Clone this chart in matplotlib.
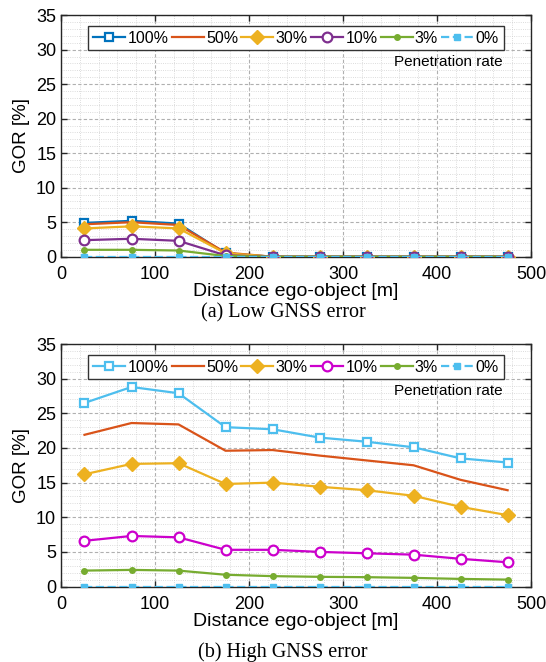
import matplotlib.pyplot as plt
from matplotlib.ticker import MultipleLocator

plt.rcParams['font.family'] = ['Liberation Sans', 'DejaVu Sans']

distance = [25, 75, 125, 175, 225, 275, 325, 375, 425, 475]
labels = ['100%', '50%', '30%', '10%', '3%', '0%']

# (a) low GNSS error
low_100 = [4.9, 5.2, 4.8, 0.5, 0, 0, 0, 0, 0, 0]
low_50 = [4.7, 5.0, 4.6, 0.6, 0, 0, 0, 0, 0, 0]
low_30 = [4.1, 4.4, 4.1, 0.5, 0, 0, 0, 0, 0, 0]
low_10 = [2.4, 2.6, 2.3, 0.2, 0, 0, 0, 0, 0, 0]
low_3 = [1.0, 1.0, 0.9, 0.1, 0, 0, 0, 0, 0, 0]
low_0 = [0, 0, 0, 0, 0, 0, 0, 0, 0, 0]

# (b) high GNSS error
high_100 = [26.5, 28.8, 27.9, 23.0, 22.7, 21.5, 20.9, 20.1, 18.5, 17.9]
high_50 = [21.9, 23.6, 23.4, 19.6, 19.7, 18.9, 18.2, 17.5, 15.4, 13.9]
high_30 = [16.2, 17.7, 17.8, 14.8, 15.0, 14.4, 13.9, 13.1, 11.5, 10.3]
high_10 = [6.6, 7.3, 7.1, 5.3, 5.3, 5.0, 4.8, 4.6, 4.0, 3.5]
high_3 = [2.3, 2.4, 2.3, 1.7, 1.5, 1.4, 1.35, 1.25, 1.1, 1.0]
high_0 = [0, 0, 0, 0, 0, 0, 0, 0, 0, 0]

fig = plt.figure(figsize=(5.46, 6.62), dpi=100)
ax1 = fig.add_axes([0.1117, 0.6122, 0.861, 0.365])
ax2 = fig.add_axes([0.1117, 0.114, 0.861, 0.3663])


def draw(ax, series, c100, c10):
    s100, s50, s30, s10, s3, s0 = series
    ax.plot(distance, s100, '-s', color=c100, lw=1.6, ms=6, mfc='white', mew=1.6, label=labels[0], zorder=3)
    ax.plot(distance, s50, '-', color='#D95319', lw=1.6, label=labels[1], zorder=3)
    ax.plot(distance, s30, '-D', color='#EDB120', lw=1.6, ms=7, label=labels[2], zorder=3)
    ax.plot(distance, s10, '-o', color=c10, lw=1.6, ms=7, mfc='white', mew=1.6, label=labels[3], zorder=3)
    ax.plot(distance, s3, '-o', color='#77AC30', lw=1.6, ms=4, label=labels[4], zorder=3)
    ax.plot(distance, s0, '--s', color='#4DBEEE', lw=1.6, ms=5, label=labels[5], zorder=3)
    ax.set_xlim(0, 500)
    ax.set_ylim(0, 35)
    ax.xaxis.set_major_locator(MultipleLocator(100))
    ax.xaxis.set_minor_locator(MultipleLocator(20))
    ax.yaxis.set_major_locator(MultipleLocator(5))
    ax.yaxis.set_minor_locator(MultipleLocator(1))
    ax.grid(which='major', color='#b0b0b0', ls=(0, (3, 2)), lw=0.8)
    ax.grid(which='minor', color='#d0d0d0', ls=':', lw=0.6)
    ax.tick_params(which='both', direction='in', labelsize=13, top=True, right=True,
                   length=4, width=1, color='#262626')
    ax.tick_params(axis='x', pad=7)
    ax.tick_params(which='minor', length=0)
    for sp in ax.spines.values():
        sp.set_color('#262626')
        sp.set_linewidth(1.0)
    ax.set_ylabel('GOR [%]', fontsize=13.5, labelpad=4)
    ax.set_xlabel('Distance ego-object [m]', fontsize=14, labelpad=0)
    leg = ax.legend(loc='upper center', ncol=6, fontsize=11.5, handlelength=2.0, handletextpad=0.15,
                    columnspacing=0.2, borderpad=0.3, borderaxespad=0, bbox_to_anchor=(0.5, 0.956),
                    fancybox=False, edgecolor='#333333', framealpha=1)
    leg.get_frame().set_linewidth(1.0)
    ax.text(0.94, 0.807, 'Penetration rate', transform=ax.transAxes, ha='right', va='center', fontsize=11)


draw(ax1, [low_100, low_50, low_30, low_10, low_3, low_0], '#0072BD', '#7E2F8E')
draw(ax2, [high_100, high_50, high_30, high_10, high_3, high_0], '#4DBEEE', '#CC00CC')

fig.text(283 / 546, 1 - 313 / 662, '(a) Low GNSS error', ha='center', va='center',
         fontsize=14.5, family='Liberation Serif')
fig.text(283 / 546, 1 - 652 / 662, '(b) High GNSS error', ha='center', va='center',
         fontsize=14.5, family='Liberation Serif')

fig.savefig('out.png', dpi=100)
